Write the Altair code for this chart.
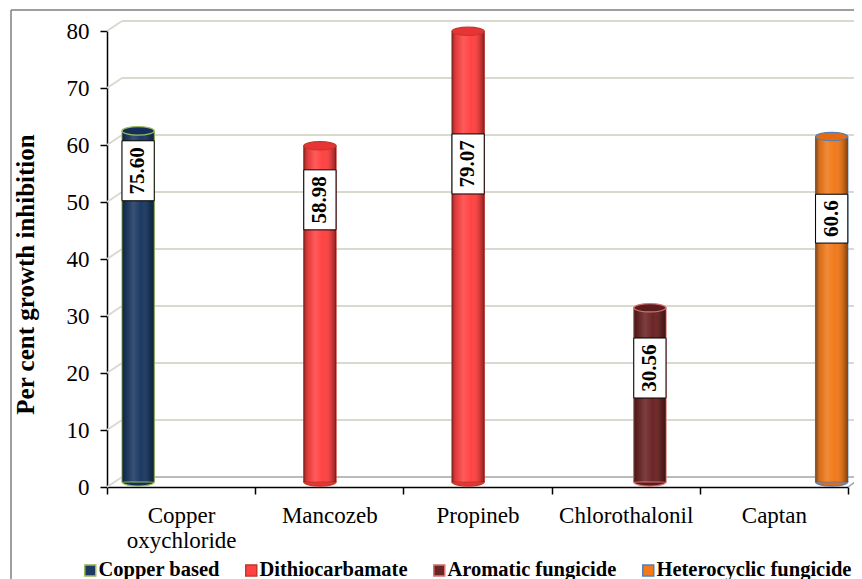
import altair as alt
import pandas as pd

categories = ["Copper oxychloride", "Mancozeb", "Propineb", "Chlorothalonil", "Captan"]
groups = ["Copper based", "Dithiocarbamate", "Dithiocarbamate", "Aromatic fungicide", "Heterocyclic fungicide"]
values = [61.6, 58.98, 79.07, 30.56, 60.6]
labels = ["75.60", "58.98", "79.07", "30.56", "60.6"]
label_at = [54.6, 49.5, 55.8, 20.0, 46.2]

series = ["Copper based", "Dithiocarbamate", "Aromatic fungicide", "Heterocyclic fungicide"]
fills = ["#1C3A62", "#FF4343", "#6B2525", "#F07A1C"]
rims = ["#9BBB59", "#C0392B", "#D9736F", "#4F81BD"]
caps = ["#14305A", "#E83434", "#5A1D1D", "#E56A12"]
ticks = [0, 10, 20, 30, 40, 50, 60, 70, 80]

W, H = 741, 456
PX = H / 80.0
FONT = "Liberation Serif"

df = pd.DataFrame({"cat": categories, "grp": groups, "v": values, "lab": labels, "at": label_at})
df["zero"] = 0.0
half = [(len(s) * 11.2 + 4) / 2 / PX for s in labels]
df["lo"] = df["at"] - half
df["hi"] = df["at"] + half
grid_df = pd.DataFrame({"t": ticks})

xs = alt.Scale(domain=categories, paddingInner=0, paddingOuter=0)
xo = alt.Scale(domain=series, range=[15, 148], paddingInner=0.04)
ys = alt.Scale(domain=[0, 80], nice=False, zero=True)

x_axis = alt.Axis(title=None, labelAngle=0, labelFont=FONT, labelFontSize=23,
                  labelColor="black", labelPadding=10, tickSize=7, tickColor="black",
                  domainColor="black", domainWidth=1.5, tickWidth=1.5,
                  tickBand="extent", labelExpr="split(datum.label, ' ')",
                  labelLineHeight=25, grid=False)
y_axis = alt.Axis(values=ticks, grid=False, title="Per cent growth inhibition",
                  labelFont=FONT, labelFontSize=23, labelColor="black", labelPadding=11,
                  tickSize=7, tickColor="black", tickWidth=1.5, domainColor="black",
                  domainWidth=1.5, titleFont=FONT, titleFontSize=25, titleFontWeight="bold",
                  titleColor="black", titleAngle=270, titleX=-74, titleY=243,
                  titleBaseline="alphabetic", titleAlign="center")

X = alt.X("cat:N", scale=xs, sort=categories, axis=x_axis)
XO = alt.XOffset("grp:N", scale=xo)


def Y(field):
    return alt.Y(field, scale=ys, axis=y_axis)


legend = alt.Legend(title=None, orient="none", legendX=-27, legendY=529, direction="horizontal",
                    symbolType="square", symbolSize=121, symbolStrokeWidth=1.5, padding=0,
                    labelFont=FONT, labelFontWeight="bold", labelFontSize=20.5, labelColor="black",
                    labelOffset={"expr": "-2"}, columnPadding=21, labelLimit=0)

grid = alt.Chart(grid_df).mark_rule(color="#D9D9CF", strokeWidth=2, yOffset=-10).encode(
    x=alt.value(15), x2=alt.value(W + 14), y=Y("t:Q"))
diag = alt.Chart(grid_df).mark_rule(color="#D9D9CF", strokeWidth=2, y2Offset=-10).encode(
    x=alt.value(0), x2=alt.value(15), y=Y("t:Q"), y2="t:Q")
floor_back = alt.Chart(grid_df).transform_filter("datum.t == 0").mark_rule(
    color="#B0B0B0", strokeWidth=1.5, yOffset=-10).encode(
    x=alt.value(15), x2=alt.value(W + 14), y=Y("t:Q"))
floor_side = alt.Chart(grid_df).transform_filter("datum.t == 0").mark_rule(
    color="#A0A0A0", strokeWidth=1.5, y2Offset=-10).encode(
    x=alt.value(W), x2=alt.value(W + 14), y=Y("t:Q"), y2="t:Q")

ellipse = "M -1 0 A 1 0.26 0 1 1 1 0 A 1 0.26 0 1 1 -1 0 Z"

bottom_caps = alt.Chart(df).mark_point(shape=ellipse, size=1024, filled=True, opacity=1,
                                       strokeWidth=1.2, yOffset=-5).encode(
    x=X, xOffset=XO, y=Y("zero:Q"),
    fill=alt.Fill("grp:N", scale=alt.Scale(domain=series, range=caps), legend=None),
    stroke=alt.Stroke("grp:N", scale=alt.Scale(domain=series, range=rims), legend=None))

bars = alt.Chart(df).mark_bar(yOffset=-5, y2Offset=-5, strokeWidth=1.2).encode(
    x=X, xOffset=XO, y=Y("v:Q"),
    fill=alt.Fill("grp:N", scale=alt.Scale(domain=series, range=fills), legend=legend),
    stroke=alt.Stroke("grp:N", scale=alt.Scale(domain=series, range=rims), legend=legend))

shade = alt.Gradient(gradient="linear", x1=0, x2=1, y1=0, y2=0, stops=[
    alt.GradientStop(color="rgba(0,0,0,0.40)", offset=0),
    alt.GradientStop(color="rgba(0,0,0,0.10)", offset=0.12),
    alt.GradientStop(color="rgba(255,255,255,0.12)", offset=0.35),
    alt.GradientStop(color="rgba(255,255,255,0.0)", offset=0.6),
    alt.GradientStop(color="rgba(0,0,0,0.15)", offset=0.85),
    alt.GradientStop(color="rgba(0,0,0,0.45)", offset=1)])
overlay = alt.Chart(df).mark_bar(fill=shade, yOffset=-5, y2Offset=-5).encode(
    x=X, xOffset=XO, y=Y("v:Q"))

top_caps = alt.Chart(df).mark_point(shape=ellipse, size=1024, filled=True, opacity=1,
                                    strokeWidth=1.2, yOffset=-5).encode(
    x=X, xOffset=XO, y=Y("v:Q"),
    fill=alt.Fill("grp:N", scale=alt.Scale(domain=series, range=caps), legend=None),
    stroke=alt.Stroke("grp:N", scale=alt.Scale(domain=series, range=rims), legend=None))

boxes = alt.Chart(df).mark_bar(fill="white", stroke="black", strokeWidth=1,
                               yOffset=-5, y2Offset=-5).encode(
    x=X, xOffset=XO, y=Y("lo:Q"), y2="hi:Q")

texts = alt.Chart(df).mark_text(angle=270, font=FONT, fontWeight="bold", fontSize=21,
                                color="black", baseline="middle", align="center",
                                yOffset=-5).encode(
    x=X, xOffset=XO, y=Y("at:Q"), text="lab:N")

frame_left = alt.Chart(grid_df).transform_filter("datum.t == 0").mark_rule(
    color="#7F7F7F", strokeWidth=1.5).encode(
    x=alt.value(-96), y=alt.value(-21), y2=alt.value(H + 100))
frame_top = alt.Chart(grid_df).transform_filter("datum.t == 0").mark_rule(
    color="#7F7F7F", strokeWidth=1.5).encode(
    x=alt.value(-96), x2=alt.value(W + 40), y=alt.value(-21))

chart = alt.layer(grid, diag, floor_back, floor_side, bottom_caps, bars, overlay, top_caps,
                  boxes, texts, frame_left, frame_top).resolve_scale(
    fill="independent", stroke="independent").properties(
    width=W, height=H,
    padding={"left": 99, "top": 23, "right": 6, "bottom": 92},
    autosize=alt.AutoSizeParams(type="none"),
    background="white").configure_view(stroke=None)

chart.save("out.html", embed_options={"renderer": "svg", "actions": False})
